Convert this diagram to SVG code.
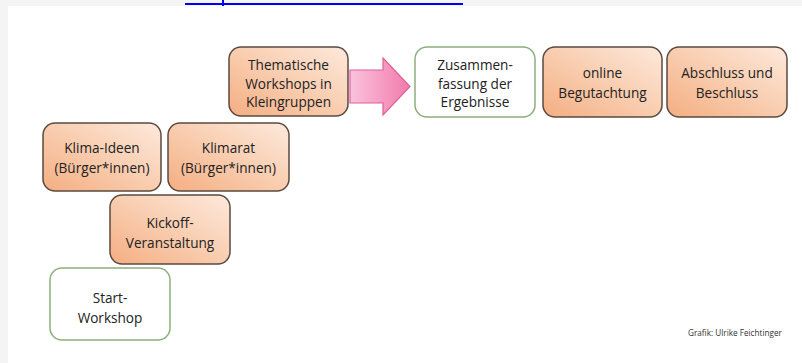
<svg xmlns="http://www.w3.org/2000/svg" width="802" height="363" viewBox="0 0 802 363">
<defs>
<linearGradient id="og" x1="0" y1="1" x2="1" y2="0">
<stop offset="0" stop-color="#f4ae82"/>
<stop offset="0.55" stop-color="#f9d0b4"/>
<stop offset="1" stop-color="#fde9dc"/>
</linearGradient>
<linearGradient id="pg" x1="0" y1="0" x2="1" y2="0">
<stop offset="0" stop-color="#fbc3dc"/>
<stop offset="1" stop-color="#f27aac"/>
</linearGradient>
<style>
.o{fill:url(#og);stroke:#5b4a3f;stroke-width:1.5}
.w{fill:#ffffff;stroke:#8daf7e;stroke-width:1.5}
.t{font-family:"Open Sans","Liberation Sans",sans-serif;font-size:13.6px;fill:#222;text-anchor:middle}
.c{font-family:"Open Sans","Liberation Sans",sans-serif;font-size:8.2px;fill:#333}
</style>
</defs>
<rect x="0" y="0" width="802" height="363" fill="#f4f4f4"/>
<rect x="8" y="6" width="794" height="357" fill="#ffffff"/>
<rect x="185" y="3" width="278" height="2" fill="#0000ee"/>
<rect x="222" y="0" width="2" height="6" fill="#0000ee"/>
<g id="connectors">
<path d="M350,70 L383,70 L383,58 L410,86.5 L383,115 L383,103 L350,103 Z" fill="url(#pg)" stroke="#e0609a" stroke-width="1.2"/>
</g>
<g id="n-thematische">
<rect class="o" x="229" y="47" width="119" height="69" rx="12"/>
<text class="t" x="288.5" y="70">Thematische</text>
<text class="t" x="288.5" y="88.5">Workshops in</text>
<text class="t" x="288.5" y="107">Kleingruppen</text>
</g>
<g id="n-zusammenfassung">
<rect class="w" x="415" y="47" width="120" height="70" rx="12"/>
<text class="t" x="475" y="70">Zusammen-</text>
<text class="t" x="475" y="88.5">fassung der</text>
<text class="t" x="475" y="107">Ergebnisse</text>
</g>
<g id="n-online">
<rect class="o" x="543" y="47" width="119" height="70" rx="12"/>
<text class="t" x="602.5" y="78">online</text>
<text class="t" x="602.5" y="98">Begutachtung</text>
</g>
<g id="n-abschluss">
<rect class="o" x="667" y="47" width="120" height="70" rx="12"/>
<text class="t" x="727" y="78">Abschluss und</text>
<text class="t" x="727" y="98">Beschluss</text>
</g>
<g id="n-klimaideen">
<rect class="o" x="43" y="123" width="118" height="68" rx="12"/>
<text class="t" x="102" y="153">Klima-Ideen</text>
<text class="t" x="102" y="172.5">(Bürger*innen)</text>
</g>
<g id="n-klimarat">
<rect class="o" x="168" y="123" width="121" height="68" rx="12"/>
<text class="t" x="228.5" y="153">Klimarat</text>
<text class="t" x="228.5" y="172.5">(Bürger*innen)</text>
</g>
<g id="n-kickoff">
<rect class="o" x="110" y="195" width="120" height="69" rx="12"/>
<text class="t" x="170" y="228">Kickoff-</text>
<text class="t" x="170" y="248">Veranstaltung</text>
</g>
<g id="n-start">
<rect class="w" x="50" y="268" width="120" height="72" rx="12"/>
<text class="t" x="110" y="303">Start-</text>
<text class="t" x="110" y="323">Workshop</text>
</g>
<text class="c" x="688" y="336">Grafik: Ulrike Feichtinger</text>
</svg>
